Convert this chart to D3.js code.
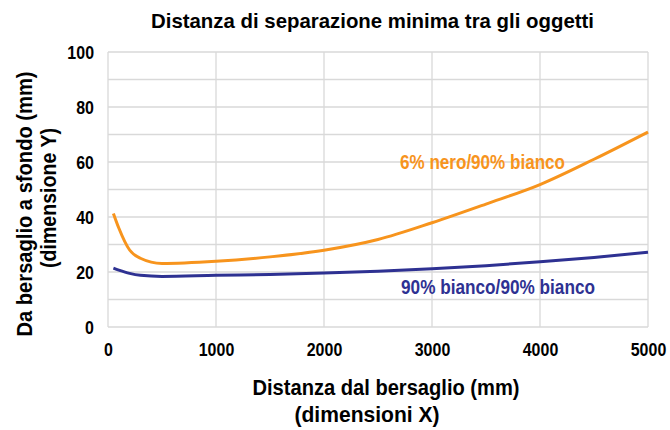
<!DOCTYPE html>
<html>
<head>
<meta charset="utf-8">
<script src="https://cdn.jsdelivr.net/npm/d3@7"></script>
<style>
  body { margin: 0; background: #fff; }
  svg text { font-family: "Liberation Sans Narrow", "Arial Narrow", "Liberation Sans", Arial, sans-serif; font-weight: bold; }
</style>
</head>
<body>
<svg id="chart" width="670" height="430"></svg>
<script>
// Distance from target (mm)
const distances = [50, 100, 200, 300, 500, 1000, 1500, 2000, 2500, 3000, 3500, 4000, 4500, 5000];
// 6% black / 90% white separation (mm)
const blackOnWhite = [41.3, 36, 28, 25, 23.1, 23.9, 25.5, 27.9, 31.8, 37.9, 44.7, 51.8, 61, 70.9];
// 90% white / 90% white separation (mm)
const whiteOnWhite = [21.4, 20.7, 19.5, 18.8, 18.4, 18.8, 19.1, 19.6, 20.3, 21.2, 22.3, 23.7, 25.3, 27.2];
const xTicks = [0, 1000, 2000, 3000, 4000, 5000];
const yTicks = [0, 20, 40, 60, 80, 100];
const yGrid = d3.range(0, 101, 10);

const svg = d3.select("#chart");
const plotLeft = 108, plotRight = 648, plotTop = 52, plotBottom = 327;

const x = d3.scaleLinear().domain([0, 5000]).range([plotLeft, plotRight]);
const y = d3.scaleLinear().domain([0, 100]).range([plotBottom, plotTop]);

// squeeze a text horizontally to give a condensed face
function condense(sel, factor) {
  sel.each(function () {
    const w = this.getComputedTextLength();
    d3.select(this).attr("textLength", w * factor).attr("lengthAdjust", "spacingAndGlyphs");
  });
}
function fitWidth(sel, width) {
  sel.attr("textLength", width).attr("lengthAdjust", "spacingAndGlyphs");
}

// grid
svg.append("g").selectAll("line").data(yGrid).join("line")
  .attr("x1", plotLeft).attr("x2", plotRight)
  .attr("y1", d => y(d)).attr("y2", d => y(d))
  .attr("stroke", "#d9d9d9").attr("stroke-width", 1.3);
svg.append("g").selectAll("line").data(xTicks).join("line")
  .attr("x1", d => x(d)).attr("x2", d => x(d))
  .attr("y1", plotTop).attr("y2", plotBottom)
  .attr("stroke", "#d9d9d9").attr("stroke-width", 1.3);

// axes
const xAxis = svg.append("g").attr("transform", `translate(0,${plotBottom})`)
  .call(d3.axisBottom(x).tickValues(xTicks).tickSize(0).tickPadding(16).tickFormat(d3.format("d")));
const yAxis = svg.append("g").attr("transform", `translate(${plotLeft},0)`)
  .call(d3.axisLeft(y).tickValues(yTicks).tickSize(0).tickPadding(14));
[xAxis, yAxis].forEach(a => {
  a.select(".domain").remove();
  a.selectAll("text").attr("font-size", 19).attr("fill", "#000")
    .style("font-family", '"Liberation Sans Narrow", "Arial Narrow", "Liberation Sans", sans-serif')
    .style("font-weight", "bold");
  condense(a.selectAll("text"), 0.84);
});

// lines
const line = d3.line().x((d, i) => x(distances[i])).y(d => y(d)).curve(d3.curveMonotoneX);
svg.append("path").datum(blackOnWhite).attr("d", line)
  .attr("fill", "none").attr("stroke", "#F7941D").attr("stroke-width", 3);
svg.append("path").datum(whiteOnWhite).attr("d", line)
  .attr("fill", "none").attr("stroke", "#2E3192").attr("stroke-width", 3);

// series labels
svg.append("text").attr("x", 400).attr("y", 169).attr("font-size", 20)
  .attr("fill", "#F7941D").text("6% nero/90% bianco").call(fitWidth, 165);
svg.append("text").attr("x", 401).attr("y", 294).attr("font-size", 20)
  .attr("fill", "#2E3192").text("90% bianco/90% bianco").call(fitWidth, 194);

// title
svg.append("text").attr("x", 372.5).attr("y", 28).attr("text-anchor", "middle")
  .attr("font-size", 21).attr("fill", "#000").text("Distanza di separazione minima tra gli oggetti")
  .call(fitWidth, 443);

// x axis title
svg.append("text").attr("x", 386).attr("y", 395).attr("text-anchor", "middle")
  .attr("font-size", 22).attr("fill", "#000").text("Distanza dal bersaglio (mm)").call(fitWidth, 267);
svg.append("text").attr("x", 367).attr("y", 422).attr("text-anchor", "middle")
  .attr("font-size", 22).attr("fill", "#000").text("(dimensioni X)").call(fitWidth, 145);

// y axis title
const yTitle = [["Da bersaglio a sfondo (mm)", 32, 204, 265], ["(dimensione Y)", 56, 198, 140]];
yTitle.forEach(([t, cx, cy, w]) => {
  svg.append("text").attr("transform", `translate(${cx},${cy}) rotate(-90)`)
    .attr("text-anchor", "middle").attr("font-size", 22).attr("fill", "#000").text(t)
    .call(fitWidth, w);
});
</script>
</body>
</html>
